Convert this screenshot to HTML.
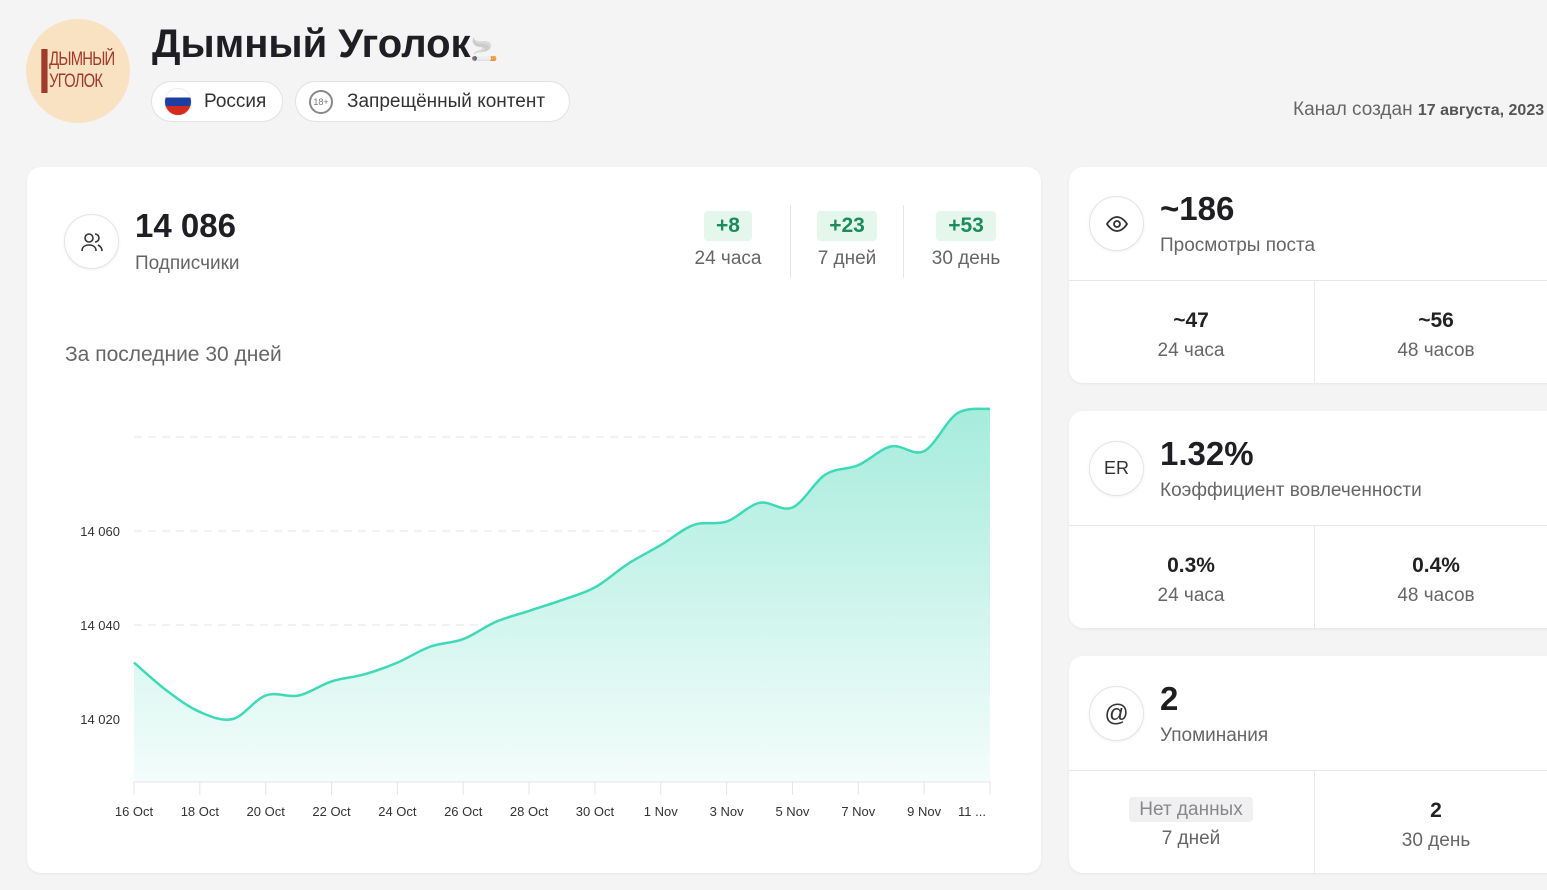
<!DOCTYPE html>
<html><head><meta charset="utf-8"><style>
*{box-sizing:border-box;margin:0;padding:0}
body{width:1547px;height:890px;overflow:hidden;background:#f4f4f5;font-family:"Liberation Sans","DejaVu Sans",sans-serif;color:#1f1f23;position:relative}
.abs{position:absolute}
.card{position:absolute;background:#fff;border-radius:14px;box-shadow:0 1px 3px rgba(0,0,0,.06)}
.pill{position:absolute;top:81px;height:41px;border:1px solid #e2e2e6;border-radius:21px;background:#fff;font-size:19px;display:flex;align-items:center;color:#333}
.ic{position:absolute;width:55px;height:55px;border-radius:50%;border:1px solid #e4e4e8;background:#fff;display:flex;align-items:center;justify-content:center;box-shadow:0 1px 3px rgba(0,0,0,.06)}
.big{position:absolute;font-size:33px;font-weight:bold;color:#1f1f23}
.sub{position:absolute;font-size:19px;color:#666}
.c{position:absolute;text-align:center;width:240px}
.v{font-size:21px;font-weight:bold;color:#222}
.l{font-size:19px;color:#666;margin-top:7px}
.badge{display:inline-block;background:#e5f6ec;color:#1b8c5a;font-weight:bold;font-size:21px;padding:3px 12px;border-radius:4px}
</style></head><body>
<div class="abs" style="left:26px;top:19px;width:104px;height:104px;border-radius:50%;background:#f8e2c2;display:flex;align-items:center;justify-content:center;color:#a03a2a;font-size:19px;line-height:22px;text-align:left">
<div style="border-left:8px solid #a03a2a;padding-left:2px;transform:scaleX(0.78);letter-spacing:-1px">ДЫМНЫЙ<br>УГОЛОК</div></div>
<div class="abs" style="left:152px;top:22px;font-size:40px;font-weight:bold">Дымный Уголок<span style="font-size:22px">🚬</span></div>
<div class="pill" style="left:151px;width:132px;padding-left:12px"><span style="display:inline-block;width:28px;height:28px;border-radius:50%;background:linear-gradient(#fff 0 33%,#1b3fa0 33% 66%,#d52b1e 66%);margin-right:12px;border:1px solid #eee"></span>Россия</div>
<div class="pill" style="left:295px;width:275px;padding-left:13px"><span style="display:inline-block;width:24px;height:24px;border-radius:50%;border:2px solid #888;font-size:9px;color:#777;text-align:center;line-height:20px;margin-right:14px">18+</span>Запрещённый контент</div>
<div class="abs" style="left:1293px;top:99px;font-size:19px;color:#666;white-space:nowrap">Канал создан <b style="font-size:16px;color:#555">17 августа, 2023</b></div>

<div class="card" style="left:27px;top:167px;width:1014px;height:706px">
<div class="ic" style="left:37px;top:47px"><svg width="24" height="24" viewBox="0 0 24 24" fill="none" stroke="#333" stroke-width="1.6"><circle cx="9" cy="8" r="4"/><path d="M2 21c0-4 3-6 7-6s7 2 7 6"/><path d="M15 4a4 4 0 010 8M18 15c2 1 4 3 4 6"/></svg></div>
<div class="big" style="left:108px;top:40px">14 086</div>
<div class="sub" style="left:108px;top:86px">Подписчики</div>
<div class="c" style="left:581px;top:44px;width:240px"><span class="badge">+8</span><div class="l">24 часа</div></div>
<div class="abs" style="left:763px;top:38px;width:1px;height:73px;background:#e5e5e8"></div>
<div class="c" style="left:700px;top:44px"><span class="badge">+23</span><div class="l">7 дней</div></div>
<div class="abs" style="left:876px;top:38px;width:1px;height:73px;background:#e5e5e8"></div>
<div class="c" style="left:819px;top:44px"><span class="badge">+53</span><div class="l">30 день</div></div>
<div class="abs" style="left:38px;top:176px;font-size:21px;color:#666">За последние 30 дней</div>
</div>

<svg class="abs" style="left:0;top:0" width="1047" height="880" id="chart">
<defs><linearGradient id="g" x1="0" y1="0" x2="0" y2="1"><stop offset="0" stop-color="#a6ecdc"/><stop offset="1" stop-color="#f4fdfb"/></linearGradient></defs>
</svg>
<script>
const categories=["16 Oct","17 Oct","18 Oct","19 Oct","20 Oct","21 Oct","22 Oct","23 Oct","24 Oct","25 Oct","26 Oct","27 Oct","28 Oct","29 Oct","30 Oct","31 Oct","1 Nov","2 Nov","3 Nov","4 Nov","5 Nov","6 Nov","7 Nov","8 Nov","9 Nov","10 Nov","11 Nov"];
const values=[14032,14026,14021.5,14020,14025,14025,14028,14029.5,14032,14035.4,14037,14040.7,14043,14045.3,14048,14053,14057,14061.3,14062,14066,14065,14072,14074,14078,14077,14085,14086];
const yTicks=[14020,14040,14060,14080];
const yTickLabels=["14 020","14 040","14 060",""];
const xTickLabels=["16 Oct","18 Oct","20 Oct","22 Oct","24 Oct","26 Oct","28 Oct","30 Oct","1 Nov","3 Nov","5 Nov","7 Nov","9 Nov","11 ..."];
const NS="http://www.w3.org/2000/svg",svg=document.getElementById('chart');
const x0=134,x1=990,yb=782;
const X=i=>x0+(x1-x0)*i/(categories.length-1);
const Y=v=>719-(v-14020)*4.7;
function mk(t,a){const e=document.createElementNS(NS,t);for(const k in a)e.setAttribute(k,a[k]);svg.appendChild(e);return e;}
yTicks.forEach((t,i)=>{const g=mk('line',{x1:x0,x2:x1,y1:Y(t),y2:Y(t),stroke:'#e4e4e7','stroke-dasharray':'8 6'});

if(yTickLabels[i]){const tx=mk('text',{x:120,y:Y(t)+5,'text-anchor':'end','font-size':13,fill:'#333'});tx.textContent=yTickLabels[i];
}});
const pts=values.map((v,i)=>[X(i),Y(v)]);
let d='M'+pts[0][0]+','+pts[0][1];
for(let i=0;i<pts.length-1;i++){const p0=pts[Math.max(0,i-1)],p1=pts[i],p2=pts[i+1],p3=pts[Math.min(pts.length-1,i+2)];
const c1=[p1[0]+(p2[0]-p0[0])/6,p1[1]+(p2[1]-p0[1])/6],c2=[p2[0]-(p3[0]-p1[0])/6,p2[1]-(p3[1]-p1[1])/6];
d+=`C${c1[0]},${c1[1]} ${c2[0]},${c2[1]} ${p2[0]},${p2[1]}`;}
const area=mk('path',{d:d+`L${x1},${yb}L${x0},${yb}Z`,fill:'url(#g)'});

const line=mk('path',{d:d,fill:'none',stroke:'#3fd9b8','stroke-width':2.5});

mk('line',{x1:x0,x2:x1,y1:yb,y2:yb,stroke:'#e4e4e7'});
xTickLabels.forEach((t,i)=>{const x=X(Math.min(i*2,categories.length-1));
mk('line',{x1:x,x2:x,y1:yb,y2:yb+13,stroke:'#e4e4e7'});
const last=i===xTickLabels.length-1;
const tx=mk('text',{x:last?x-4:x,y:816,'text-anchor':last?'end':'middle','font-size':13,fill:'#333'});tx.textContent=t;
});
</script>

<div class="card" style="left:1069px;top:167px;width:500px;height:216px">
<div class="ic" style="left:20px;top:29px"><svg width="24" height="24" viewBox="0 0 24 24" fill="none" stroke="#333" stroke-width="1.8"><path d="M2 12s4-7 10-7 10 7 10 7-4 7-10 7S2 12 2 12z"/><circle cx="12" cy="12" r="3"/></svg></div>
<div class="big" style="left:91px;top:23px">~186</div>
<div class="sub" style="left:91px;top:68px">Просмотры поста</div>
<div class="abs" style="left:0;top:113px;width:500px;height:1px;background:#e8e8eb"></div>
<div class="abs" style="left:245px;top:113px;width:1px;height:103px;background:#e8e8eb"></div>
<div class="c" style="left:2px;top:142px"><div class="v">~47</div><div class="l">24 часа</div></div>
<div class="c" style="left:247px;top:142px"><div class="v">~56</div><div class="l">48 часов</div></div>
</div>

<div class="card" style="left:1069px;top:411px;width:500px;height:217px">
<div class="ic" style="left:20px;top:30px;font-size:18px;color:#333">ER</div>
<div class="big" style="left:91px;top:24px">1.32%</div>
<div class="sub" style="left:91px;top:69px">Коэффициент вовлеченности</div>
<div class="abs" style="left:0;top:114px;width:500px;height:1px;background:#e8e8eb"></div>
<div class="abs" style="left:245px;top:114px;width:1px;height:103px;background:#e8e8eb"></div>
<div class="c" style="left:2px;top:143px"><div class="v">0.3%</div><div class="l">24 часа</div></div>
<div class="c" style="left:247px;top:143px"><div class="v">0.4%</div><div class="l">48 часов</div></div>
</div>

<div class="card" style="left:1069px;top:656px;width:500px;height:217px">
<div class="ic" style="left:20px;top:30px;font-size:24px;color:#333">@</div>
<div class="big" style="left:91px;top:24px">2</div>
<div class="sub" style="left:91px;top:69px">Упоминания</div>
<div class="abs" style="left:0;top:114px;width:500px;height:1px;background:#e8e8eb"></div>
<div class="abs" style="left:245px;top:114px;width:1px;height:103px;background:#e8e8eb"></div>
<div class="c" style="left:2px;top:143px"><span style="background:#f0f0f2;color:#888;font-size:19px;padding:2px 10px;border-radius:4px">Нет данных</span><div class="l">7 дней</div></div>
<div class="c" style="left:247px;top:143px"><div class="v">2</div><div class="l">30 день</div></div>
</div>
</body></html>
